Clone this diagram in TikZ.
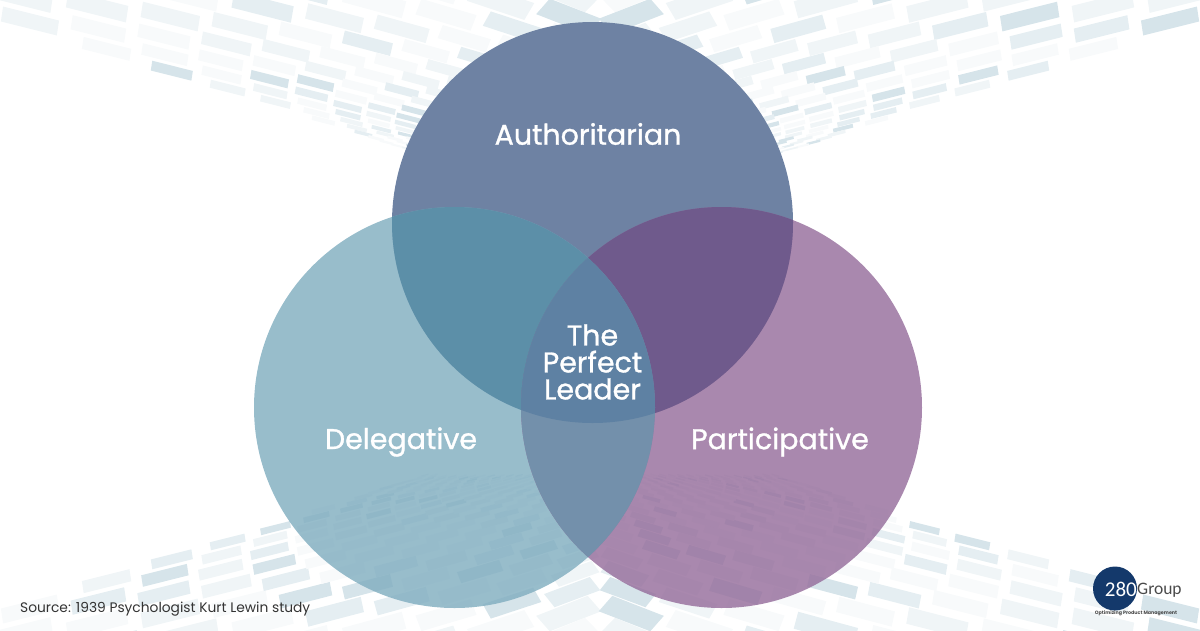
\documentclass[tikz,border=0pt]{standalone}
\usepackage{fontspec}
\setmainfont{Poppins}
\newfontfamily\labelfont{Poppins}[FakeBold=1]
\newfontfamily\logofont{Carlito}
\usetikzlibrary{calc}
\definecolor{tileA}{HTML}{D6E4EA}
\definecolor{tileB}{HTML}{E5EEF2}
\definecolor{tileC}{HTML}{F0F5F7}
\definecolor{tileD}{HTML}{F8FAFB}
\definecolor{authFill}{HTML}{6E82A3}
\definecolor{delegFill}{HTML}{81AEC0}
\definecolor{partFill}{HTML}{966E9C}
\definecolor{authDeleg}{HTML}{5C8FA8}
\definecolor{authPart}{HTML}{6F5A8C}
\definecolor{delegPart}{HTML}{7390AB}
\definecolor{coreFill}{HTML}{5E81A3}
\definecolor{logoBlue}{HTML}{14396B}
\definecolor{logoGrey}{HTML}{4A4A4A}
\definecolor{sourceInk}{HTML}{333333}
\pgfmathdeclarerandomlist{tilecols}{{tileA}{tileB}{tileB}{tileC}{tileC}{tileC}{tileD}{tileD}{tileD}}
\newcommand{\tileband}{
\foreach \k in {0,...,21} {
 \pgfmathsetmacro\dep{165*0.86^\k}
 \pgfmathsetmacro\gap{68*(\dep/165)^0.75}
 \foreach \c in {-40,...,39} {
  \pgfmathsetmacro\raw{(\c+0.5)*\gap}
  \pgfmathsetmacro\off{\raw*(1+0.6*abs(\raw)/600)}
  \pgfmathsetmacro\tt{min(abs(\off)/600,1)}
  \pgfmathsetmacro\tx{600+\off}
  \pgfmathsetmacro\ty{165-\dep*(1+0.9*\tt)}
  \pgfmathsetmacro\bnd{min(155,15+0.33*(600-abs(\off)))}
  \pgfmathtruncatemacro\vis{and(and(\ty>-20,\ty<\bnd),abs(\off)<640)}
  \pgfmathrandomitem{\tilecol}{tilecols}
  \ifnum\vis=1
   \pgfmathsetmacro\sgn{\off<0 ? 1 : -1}
   \pgfmathsetmacro\wd{0.4*\gap*(1+1.2*abs(\raw)/600)}
   \pgfmathsetmacro\ht{0.052*\dep*(1+0.9*\tt)}
   \pgfmathsetmacro\ey{\sgn*(0.25+0.2*(1-\tt)^4*\dep/165)*\wd}
   \pgfmathsetmacro\ex{-\sgn*(0.15+1.05*(1-\tt)^4*\dep/165)*\ht}
   \fill[fill=\tilecol] (\tx-\wd-\ex,\ty-\ey-\ht) -- (\tx+\wd-\ex,\ty+\ey-\ht)
    -- (\tx+\wd+\ex,\ty+\ey+\ht) -- (\tx-\wd+\ex,\ty-\ey+\ht) -- cycle;
  \fi
 }
}}

\begin{document}
\begin{tikzpicture}[x=1pt,y=-1pt,
 vennlabel/.style={text=white,font=\labelfont\fontsize{28.5}{27}\selectfont},
 corelabel/.style={vennlabel,align=center},
 bubble/.style={fill opacity=0.82},
 logotext/.style={inner sep=0pt,font=\logofont\fontsize{17.5}{19}\selectfont}]
\useasboundingbox (0,0) rectangle (1200,630);
\clip (0,0) rectangle (1200,630);
\pgfmathsetseed{280}
% background tiles
\tileband
\begin{scope}[shift={(0,630)},yscale=-1]
\tileband
\end{scope}
% circles
\coordinate (authC) at (592.5,222.5);
\coordinate (delegC) at (454.5,407.5);
\coordinate (partC) at (721.5,407.5);
\fill[authFill] (authC) circle[radius=200.5pt];
\fill[delegFill,bubble] (delegC) circle[radius=200.5pt];
\fill[partFill,bubble] (partC) circle[radius=200.5pt];
% overlaps
\begin{scope}
\clip (authC) circle[radius=200.5pt];
\fill[authDeleg] (delegC) circle[radius=200.5pt];
\fill[authPart] (partC) circle[radius=200.5pt];
\end{scope}
\begin{scope}
\clip (delegC) circle[radius=200.5pt];
\fill[delegPart] (partC) circle[radius=200.5pt];
\clip (partC) circle[radius=200.5pt];
\fill[coreFill] (authC) circle[radius=200.5pt];
\end{scope}
% labels
\node[vennlabel] (authLabel) at (588,134) {Authoritarian};
\node[vennlabel] (delegLabel) at (401,442) {Delegative};
\node[vennlabel] (partLabel) at (780,442) {Participative};
\node[corelabel] (coreLabel) at (592.5,362) {The\\Perfect\\Leader};
\node[anchor=west,inner sep=0pt,text=sourceInk,font=\fontsize{13.8}{14}\selectfont] (sourceNote) at (20,609) {Source: 1939 Psychologist Kurt Lewin study};
% logo
\fill[logoBlue] (1115,588.5) circle[radius=22pt];
\node[logotext,anchor=east,text=white,font=\logofont\fontsize{21}{21}\selectfont] (logoNum) at (1137,589) {280};
\node[logotext,anchor=west,text=logoGrey] (logoName) at (1137,590) {Group};
\node[inner sep=0pt,text=logoGrey,font=\bfseries\fontsize{4.8}{6}\selectfont] (logoTag) at (1136,613) {Optimizing Product Management};
\end{tikzpicture}
\end{document}
